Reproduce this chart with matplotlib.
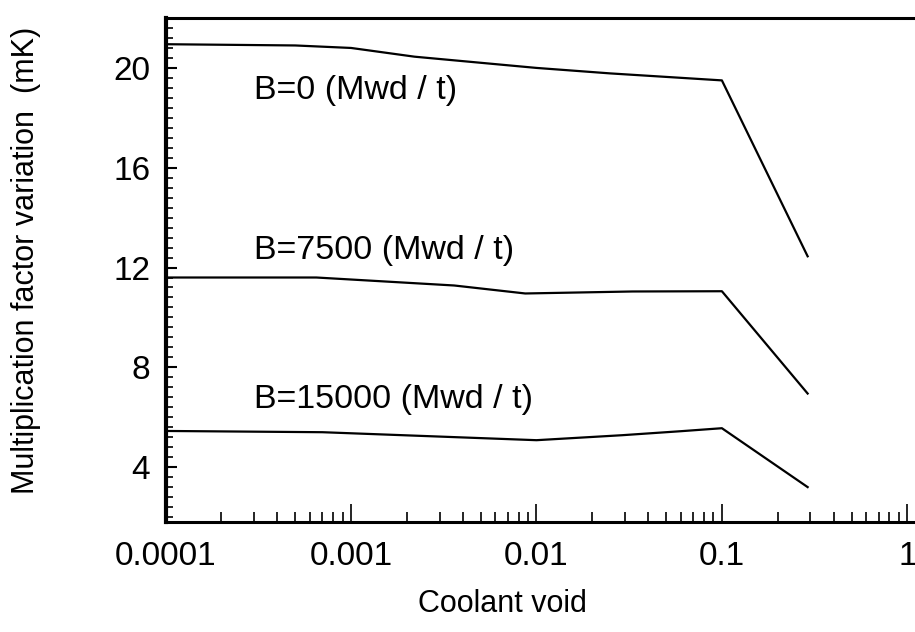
import matplotlib
matplotlib.use("Agg")
import matplotlib.pyplot as plt
from matplotlib.ticker import FixedLocator, LogLocator, NullFormatter, AutoMinorLocator, FixedFormatter

plt.rcParams['font.family'] = ['Liberation Sans', 'DejaVu Sans']

# curve data
void_b0 = [1e-4, 5e-4, 1e-3, 2.2e-3, 0.01, 0.025, 0.1, 0.29]
mk_b0 = [20.95, 20.9, 20.8, 20.45, 20.0, 19.78, 19.5, 12.45]

void_b7500 = [1e-4, 6.5e-4, 3.6e-3, 8.7e-3, 0.033, 0.1, 0.29]
mk_b7500 = [11.6, 11.6, 11.28, 10.96, 11.04, 11.05, 6.95]

void_b15000 = [1e-4, 7e-4, 1.9e-3, 0.01, 0.029, 0.06, 0.1, 0.29]
mk_b15000 = [5.45, 5.4, 5.28, 5.08, 5.28, 5.44, 5.56, 3.2]

labels = ["B=0 (Mwd / t)", "B=7500 (Mwd / t)", "B=15000 (Mwd / t)"]
label_x = [3.0e-4, 3.0e-4, 3.0e-4]
label_y = [19.1, 12.7, 6.7]

x_ticks = [1e-4, 1e-3, 1e-2, 1e-1, 1]
x_ticklabels = ["0.0001", "0.001", "0.01", "0.1", "1"]
y_ticks = [4, 8, 12, 16, 20]

fig = plt.figure(figsize=(9.15, 6.32), dpi=100)
ax = fig.add_axes([0.181, 0.174, 0.819, 0.7975])

ax.plot(void_b0, mk_b0, color='k', lw=1.6)
ax.plot(void_b7500, mk_b7500, color='k', lw=1.6)
ax.plot(void_b15000, mk_b15000, color='k', lw=1.6)

for t, x, y in zip(labels, label_x, label_y):
    ax.text(x, y, t, fontsize=24.5, ha='left', va='center')

ax.set_xscale('log')
ax.set_xlim(1e-4, 1.1)
ax.set_ylim(1.8, 22)

ax.xaxis.set_major_locator(FixedLocator(x_ticks))
ax.xaxis.set_major_formatter(FixedFormatter(x_ticklabels))
ax.xaxis.set_minor_locator(LogLocator(base=10, subs=range(2, 10)))
ax.xaxis.set_minor_formatter(NullFormatter())
ax.yaxis.set_major_locator(FixedLocator(y_ticks))
ax.yaxis.set_minor_locator(AutoMinorLocator(10))

ax.tick_params(axis='x', which='major', direction='in', length=13, width=1.2,
               labelsize=24, pad=14)
ax.tick_params(axis='x', which='minor', direction='in', length=7, width=1.2)
ax.tick_params(axis='y', which='major', direction='in', length=8, width=1.5,
               labelsize=24, pad=11)
ax.tick_params(axis='y', which='minor', direction='in', length=5, width=1.2)

ax.spines['right'].set_visible(False)
ax.spines['left'].set_linewidth(3)
ax.spines['bottom'].set_linewidth(2.2)
ax.spines['top'].set_linewidth(2.2)

ax.set_xlabel("Coolant void", fontsize=22)
ax.xaxis.set_label_coords(0.45, -0.132)
ax.set_ylabel("Multiplication factor variation  (mK)", fontsize=22)
ax.yaxis.set_label_coords(-0.166, 0.52)

fig.savefig("out.png", dpi=100)
